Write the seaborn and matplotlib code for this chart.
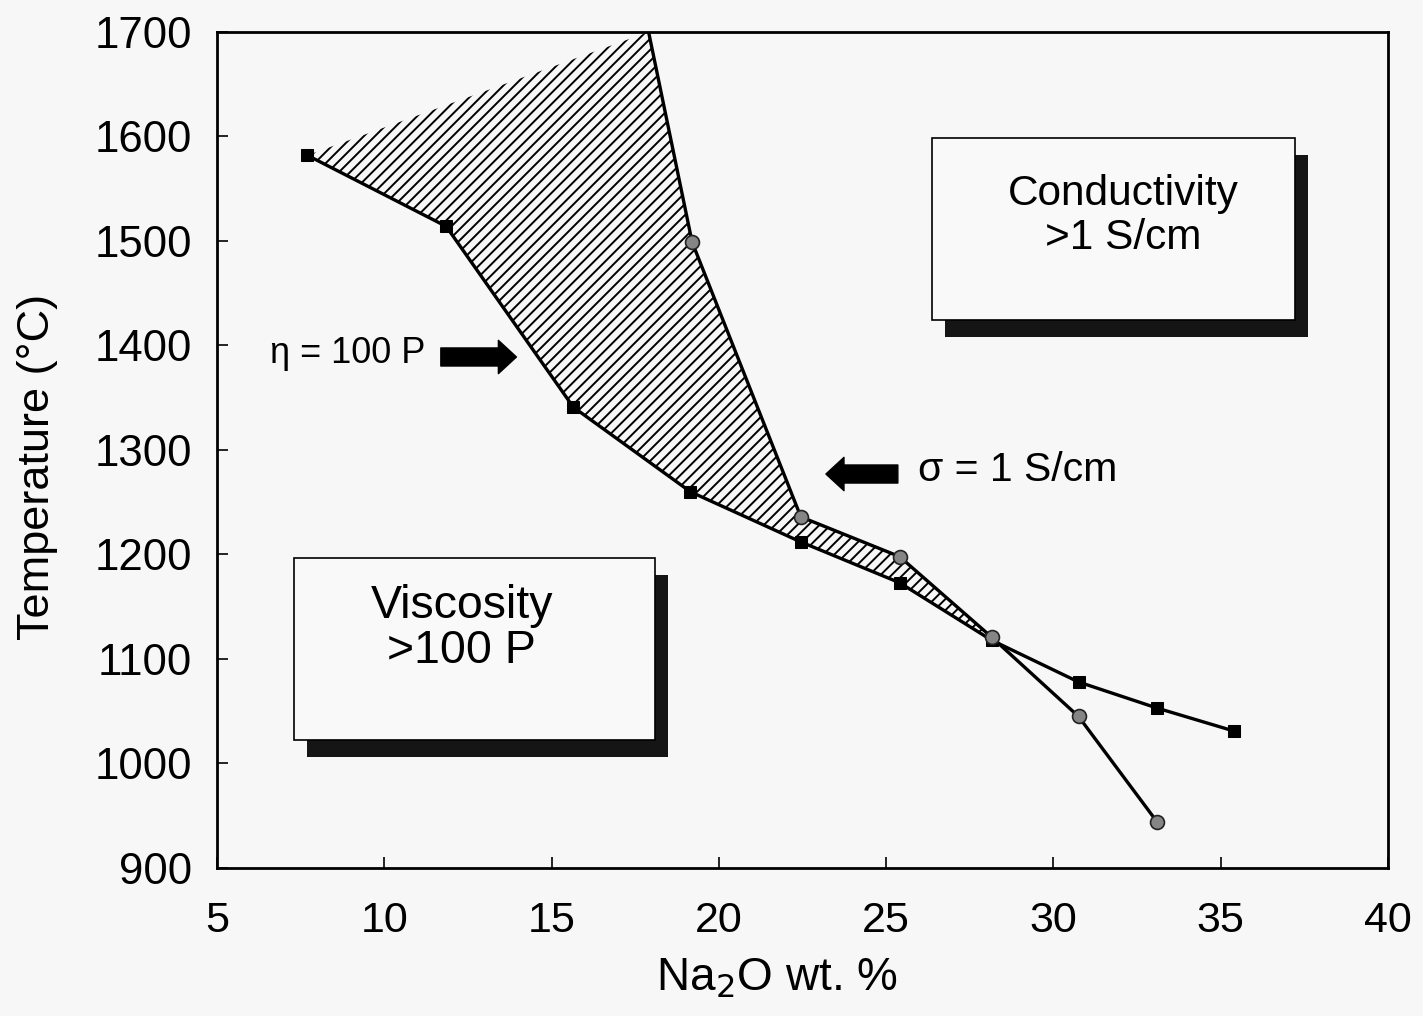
import matplotlib
matplotlib.use("Agg")
import matplotlib.pyplot as plt
import matplotlib.patches as mpatches
import seaborn as sns
import pandas as pd

# ---------------- data ----------------
visc_x = [7.7, 11.85, 15.65, 19.15, 22.45, 25.4, 28.15, 30.75, 33.1, 35.4]
visc_y = [1582, 1514, 1341, 1260, 1212, 1173, 1118, 1078, 1053, 1031]
cond_x = [19.2, 22.45, 25.4, 28.15, 30.75, 33.1]
cond_y = [1499, 1236, 1198, 1121, 1045, 944]
apex_x = [17.9]
apex_y = [1700]
xticks = [5, 10, 15, 20, 25, 30, 35, 40]
yticks = [900, 1000, 1100, 1200, 1300, 1400, 1500, 1600, 1700]

BG = "#f7f7f7"
sns.set_theme(style="ticks")
plt.rcParams["font.family"] = ["Liberation Sans", "DejaVu Sans"]
plt.rcParams["text.color"] = "black"
plt.rcParams["axes.labelcolor"] = "black"
plt.rcParams["xtick.color"] = "black"
plt.rcParams["ytick.color"] = "black"
plt.rcParams["hatch.linewidth"] = 1.4
plt.rcParams["hatch.color"] = "black"

fig = plt.figure(figsize=(14.23, 10.16), dpi=100, facecolor=BG)
ax = fig.add_axes([0.1525, 0.1457, 0.8229, 0.8228])
ax.set_facecolor(BG)

# hatched region between the two curves
n_cross = 7  # viscosity points up to the crossing
poly_x = visc_x[:n_cross] + cond_x[:4][::-1] + apex_x
poly_y = visc_y[:n_cross] + cond_y[:4][::-1] + apex_y
ax.fill(poly_x, poly_y, facecolor="none", edgecolor="black", linewidth=0,
        hatch="///", zorder=1)

# conductivity boundary continues up to the top of the plot
ax.plot(apex_x + cond_x[:1], apex_y + cond_y[:1], color="black",
        linewidth=2.4, zorder=3)

dv = pd.DataFrame({"x": visc_x, "y": visc_y})
dc = pd.DataFrame({"x": cond_x, "y": cond_y})
sns.lineplot(data=dv, x="x", y="y", sort=False, color="black", linewidth=2.4,
             marker="s", markersize=9, markerfacecolor="black",
             markeredgecolor="black", ax=ax, zorder=3)
sns.lineplot(data=dc, x="x", y="y", sort=False, color="black", linewidth=2.4,
             marker="o", markersize=10, markerfacecolor="#858585",
             markeredgecolor="#222222", markeredgewidth=1.2, ax=ax, zorder=4)

ax.set_xlim(5, 40)
ax.set_ylim(900, 1700)
ax.set_xticks(xticks)
ax.set_yticks(yticks)
ax.tick_params(axis="both", direction="in", length=8, width=1.2,
               top=False, right=False, colors="black")
ax.tick_params(axis="x", pad=24, labelsize=31)
ax.tick_params(axis="y", pad=18, labelsize=31.5)
for sp in ax.spines.values():
    sp.set_visible(True)
    sp.set_linewidth(2.0)
    sp.set_color("black")

ax.set_xlabel("Na$_2$O wt. %", fontsize=33)
ax.set_ylabel("Temperature (°C)", fontsize=32.5)
ax.xaxis.set_label_coords(0.478, -0.106)
ax.yaxis.set_label_coords(-0.136, 0.48)

# shadowed text boxes
def shadow_box(x0, y0, x1, y1, dx, dy, lines, tx, ty, fs, ls):
    ax.add_patch(mpatches.Rectangle((x0 + dx, y0 - dy), x1 - x0, y1 - y0,
                                    facecolor="#151515", edgecolor="none", zorder=5))
    ax.add_patch(mpatches.Rectangle((x0, y0), x1 - x0, y1 - y0,
                                    facecolor="#f9f9f9", edgecolor="black",
                                    linewidth=1.2, zorder=6))
    ax.text(tx, ty, lines, ha="center", va="center", fontsize=fs,
            linespacing=ls, zorder=7)

shadow_box(26.37, 1424.4, 37.22, 1598.6, 0.38, 16.5, "Conductivity\n>1 S/cm",
           32.08, 1524, 30.5, 1.12)
shadow_box(7.30, 1022.5, 18.09, 1196.7, 0.38, 16.5, "Viscosity\n>100 P",
           12.32, 1129, 33.5, 1.02)

# labels with arrows
ax.text(6.58, 1392, "η = 100 P", fontsize=26, va="center", ha="left", zorder=7)
ax.annotate("", xy=(13.95, 1389), xytext=(11.69, 1389),
            arrowprops=dict(arrowstyle="simple,head_length=1.3,head_width=2.4,tail_width=1.3",
                            color="black", shrinkA=0, shrinkB=0, mutation_scale=10),
            zorder=7)
ax.text(25.95, 1281, "σ = 1 S/cm", fontsize=29.5, va="center", ha="left", zorder=7)
ax.annotate("", xy=(23.2, 1277), xytext=(25.35, 1277),
            arrowprops=dict(arrowstyle="simple,head_length=1.3,head_width=2.4,tail_width=1.3",
                            color="black", shrinkA=0, shrinkB=0, mutation_scale=10),
            zorder=7)

fig.savefig("out.png", dpi=100, facecolor=BG)
